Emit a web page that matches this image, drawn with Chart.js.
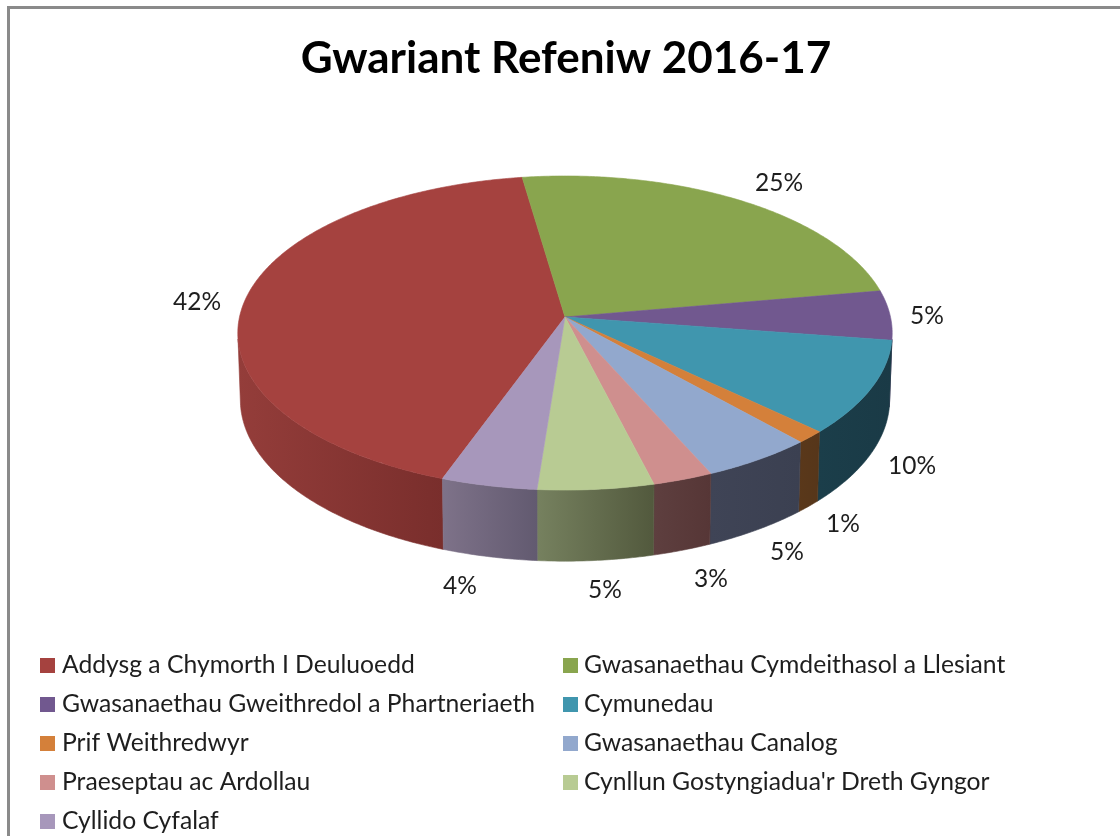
<!DOCTYPE html>
<html>
<head>
<meta charset="utf-8">
<title>Gwariant Refeniw 2016-17</title>
<script src="https://cdn.jsdelivr.net/npm/chart.js@4"></script>
<style>
  html, body { margin: 0; padding: 0; background: #fff; overflow: hidden; }
  #wrap { position: relative; width: 1120px; height: 836px; }
  #frame { position: absolute; left: 7px; top: 6px; right: 0; bottom: 0; border-top: 3px solid #8a8a8a; border-left: 3px solid #8a8a8a; }
  canvas { position: absolute; left: 0; top: 0; }
</style>
</head>
<body>
<div id="wrap">
  <div id="frame"></div>
  <canvas id="pie" width="1120" height="836"></canvas>
</div>
<script>
const categories = [
  'Addysg a Chymorth I Deuluoedd',
  'Gwasanaethau Cymdeithasol a Llesiant',
  'Gwasanaethau Gweithredol a Phartneriaeth',
  'Cymunedau',
  'Prif Weithredwyr',
  'Gwasanaethau Canalog',
  'Praeseptau ac Ardollau',
  "Cynllun Gostyngiadua'r Dreth Gyngor",
  'Cyllido Cyfalaf'
];
const shares = [42.2, 24.6, 5.1, 9.7, 1.3, 5.0, 2.7, 5.2, 4.3];
const topColours = ['#a5423f', '#89a54e', '#71588f', '#4096ae', '#d4803a', '#92a8cd', '#cf8f8e', '#b8cb93', '#a797bb'];
// side wall shading, left edge to right edge of each slice
const wallLeft = ['#943d3a', '#5a6c34', '#4a3a60', '#1b3e4a', '#5a381a', '#3f4456', '#5e3f3f', '#76815f', '#7e7289'];
const wallRight = ['#792e2c', '#5a6c34', '#4a3a60', '#1a3a46', '#56361a', '#3b4051', '#563636', '#52593d', '#625a70'];

// percent label centres on the page
const labelCentres = [[197, 301], [779, 182], [927, 315], [912, 465], [843, 523], [787, 551], [711, 578], [605, 589], [460, 585]];

const FONT = 'Lato, Carlito, sans-serif';
const TEXT_COLOUR = '#1e1e1e';

// Excel style tilted disc: the top face is drawn with a bit of perspective,
// so the slice point sits above the middle of the ellipse
const topFace = { cx: 565, cy: 317, rx: 325.5, ry: 155.4 };
const bottomFace = { cx: 565, cy: 383, rx: 323, ry: 160 };
const TILT = -0.102;

function project(face, angle) {
  const u = Math.cos(angle);
  const v = Math.sin(angle);
  const w = 1 + TILT * v;
  return [face.cx + face.rx * u / w, face.cy + face.ry * v / w];
}

function angleSteps(start, end) {
  const steps = Math.max(2, Math.ceil((end - start) / 0.01));
  const out = [];
  for (let i = 0; i <= steps; i++) out.push(start + (end - start) * i / steps);
  return out;
}

const pie3d = {
  id: 'pie3d',
  beforeDatasetsDraw(chart) {
    const ctx = chart.ctx;
    const arcs = chart.getDatasetMeta(0).data;

    // Walls, only the part of the rim that faces the viewer.
    // Arc angles keep counting past a full turn, so try the range twice.
    const wallFrom = 98 * Math.PI / 180 - Math.PI / 2;
    const wallTo = 262 * Math.PI / 180 - Math.PI / 2;
    arcs.forEach((arc, i) => {
      [0, Math.PI * 2].forEach(turn => {
        const from = Math.max(arc.startAngle, wallFrom + turn);
        const to = Math.min(arc.endAngle, wallTo + turn);
        if (to <= from) return;
        const steps = angleSteps(from, to);
        const upper = steps.map(a => project(topFace, a));
        const lower = steps.map(a => project(bottomFace, a)).reverse();
        const xs = upper.concat(lower).map(p => p[0]);
        const grad = ctx.createLinearGradient(Math.min(...xs), 0, Math.max(...xs), 0);
        grad.addColorStop(0, wallLeft[i]);
        grad.addColorStop(1, wallRight[i]);
        ctx.beginPath();
        upper.concat(lower).forEach((p, k) => k ? ctx.lineTo(p[0], p[1]) : ctx.moveTo(p[0], p[1]));
        ctx.closePath();
        ctx.fillStyle = grad;
        ctx.strokeStyle = grad;
        ctx.lineWidth = 0.6;
        ctx.fill();
        ctx.stroke();
      });
    });

    // Top face
    arcs.forEach((arc, i) => {
      ctx.beginPath();
      ctx.moveTo(topFace.cx, topFace.cy);
      angleSteps(arc.startAngle, arc.endAngle).forEach(a => {
        const p = project(topFace, a);
        ctx.lineTo(p[0], p[1]);
      });
      ctx.closePath();
      ctx.fillStyle = topColours[i];
      ctx.strokeStyle = topColours[i];
      ctx.lineWidth = 0.6;
      ctx.fill();
      ctx.stroke();
    });

    return false; // the flat arcs are replaced by the tilted ones
  },
  afterDraw(chart) {
    const ctx = chart.ctx;
    ctx.save();

    // Percent labels
    ctx.font = '24.5px ' + FONT;
    ctx.fillStyle = TEXT_COLOUR;
    ctx.textAlign = 'center';
    ctx.textBaseline = 'middle';
    shares.forEach((s, i) => {
      ctx.fillText(Math.round(s) + '%', labelCentres[i][0], labelCentres[i][1] + 1);
    });

    // Legend, two columns filled left to right
    const items = chart.options.plugins.legend.labels.generateLabels(chart);
    ctx.font = '24.7px ' + FONT;
    ctx.textAlign = 'left';
    items.forEach((item, i) => {
      const col = i % 2;
      const row = Math.floor(i / 2);
      const y = 665 + row * 39;
      ctx.fillStyle = item.fillStyle;
      ctx.fillRect(col ? 563 : 40, y - 7, 15, 15);
      ctx.fillStyle = TEXT_COLOUR;
      ctx.fillText(item.text, col ? 584 : 62, y);
    });
    ctx.restore();
  }
};

new Chart(document.getElementById('pie'), {
  type: 'pie',
  data: {
    labels: categories,
    datasets: [{ data: shares, backgroundColor: topColours, borderWidth: 0 }]
  },
  options: {
    responsive: false,
    animation: false,
    rotation: 199.9,
    layout: { padding: { left: 12, top: 0 } },
    plugins: {
      legend: { display: false },
      tooltip: { enabled: false },
      title: {
        display: true,
        text: 'Gwariant Refeniw 2016-17',
        color: '#000',
        font: { family: FONT, size: 44, weight: 'bold' },
        padding: { top: 32, bottom: 10 }
      }
    }
  },
  plugins: [pie3d]
});
</script>
</body>
</html>
